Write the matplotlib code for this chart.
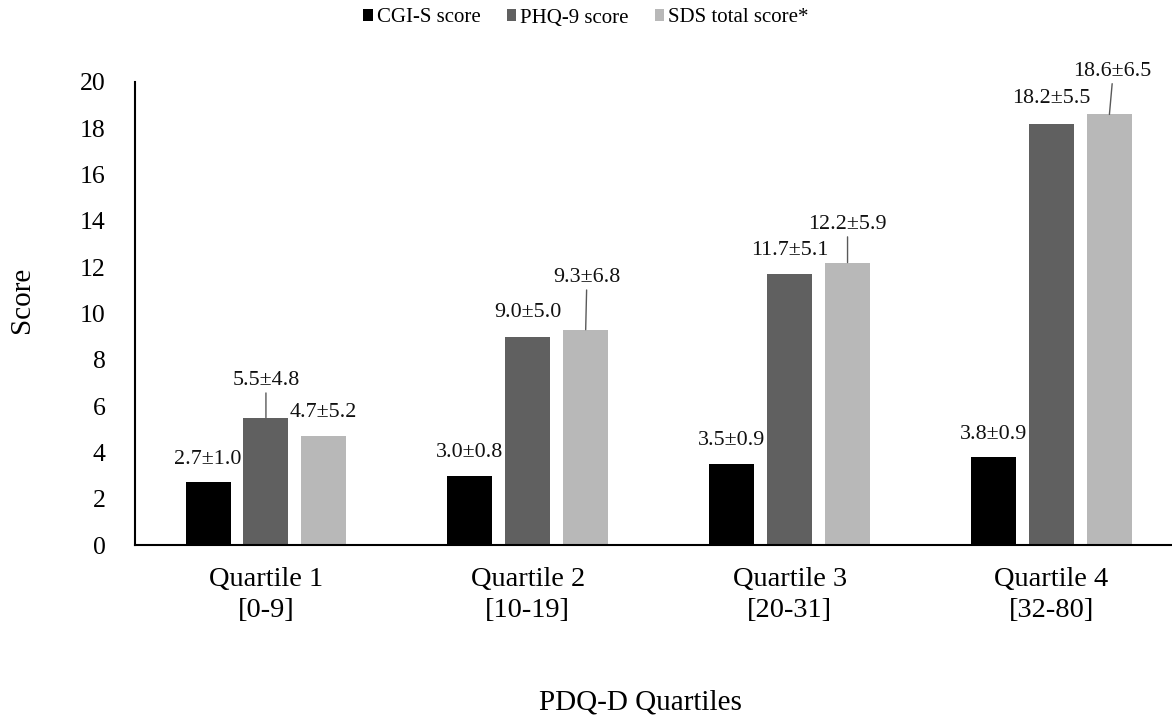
import matplotlib
matplotlib.use("Agg")
import matplotlib.pyplot as plt
import numpy as np

# %%
# Data
quartiles = ["Quartile 1\n[0-9]", "Quartile 2\n[10-19]",
             "Quartile 3\n[20-31]", "Quartile 4\n[32-80]"]
series = ["CGI-S score", "PHQ-9 score", "SDS total score*"]
cgi_mean = [2.7, 3.0, 3.5, 3.8]
cgi_sd = [1.0, 0.8, 0.9, 0.9]
phq_mean = [5.5, 9.0, 11.7, 18.2]
phq_sd = [4.8, 5.0, 5.1, 5.5]
sds_mean = [4.7, 9.3, 12.2, 18.6]
sds_sd = [5.2, 6.8, 5.9, 6.5]

# %%
# Layout / style
colors = ["#000000", "#606060", "#b8b8b8"]
# label offsets above the bar top (pixels) and whether a leader line is drawn
label_dy = [[23, 23, 23, 23],
            [37, 24, 24, 25],
            [24, 52, 38, 43]]
label_dx = [[0, 0, 0, 0],
            [0, 0, 0, 0],
            [0, 1, 0, 3]]
leader = [[False, False, False, False],
          [True, False, False, False],
          [False, True, True, True]]

plt.rcParams['font.family'] = ['Liberation Serif', 'DejaVu Serif']

fig = plt.figure(figsize=(11.72, 7.16), dpi=100, facecolor='white')
ax = fig.add_axes([135 / 1172, 1 - 545 / 716, 1037 / 1172, 463 / 716])

x = np.arange(len(quartiles))
width = 0.172
step = 0.221
means = [cgi_mean, phq_mean, sds_mean]
sds = [cgi_sd, phq_sd, sds_sd]

for k in range(3):
    pos = x + (k - 1) * step
    ax.bar(pos, means[k], width=width, color=colors[k], label=series[k],
           zorder=2)
    for i in range(len(x)):
        txt = f"{means[k][i]:.1f}\u00b1{sds[k][i]:.1f}"
        ap = None
        if leader[k][i]:
            ap = dict(arrowstyle='-', color='#595959', lw=1.0,
                      shrinkA=0, shrinkB=0, relpos=(0.5, 0.0))
        ax.annotate(txt, xy=(pos[i], means[k][i]),
                    xytext=(label_dx[k][i], label_dy[k][i]),
                    textcoords='offset pixels', ha='center', va='center',
                    fontsize=15.8, color='#111111', arrowprops=ap)

ax.set_xlim(-0.5, 3.46)
ax.set_ylim(0, 20)
ax.set_yticks(np.arange(0, 21, 2))
ax.set_xticks(x)
ax.set_xticklabels(quartiles, fontsize=20.5, linespacing=1.3)
ax.tick_params(axis='y', length=0, pad=21, labelsize=18.5)
ax.tick_params(axis='x', length=0, pad=16)
for s in ['top', 'right']:
    ax.spines[s].set_visible(False)
for s in ['left', 'bottom']:
    ax.spines[s].set_linewidth(1.5)
    ax.spines[s].set_color('black')

fig.text(22 / 1172, 1 - 300 / 716, "Score", rotation=90, fontsize=21,
         ha='center', va='center')
fig.text(640 / 1172, 1 - 703 / 716, "PDQ-D Quartiles", fontsize=21,
         ha='center', va='center')

fig.legend(loc='center', bbox_to_anchor=(586 / 1172, 1 - 18 / 716), ncol=3,
           frameon=False, fontsize=15, handlelength=0.45, handleheight=0.45,
           handletextpad=0.2, columnspacing=1.25)

fig.savefig("out.png", dpi=100, facecolor='white')
